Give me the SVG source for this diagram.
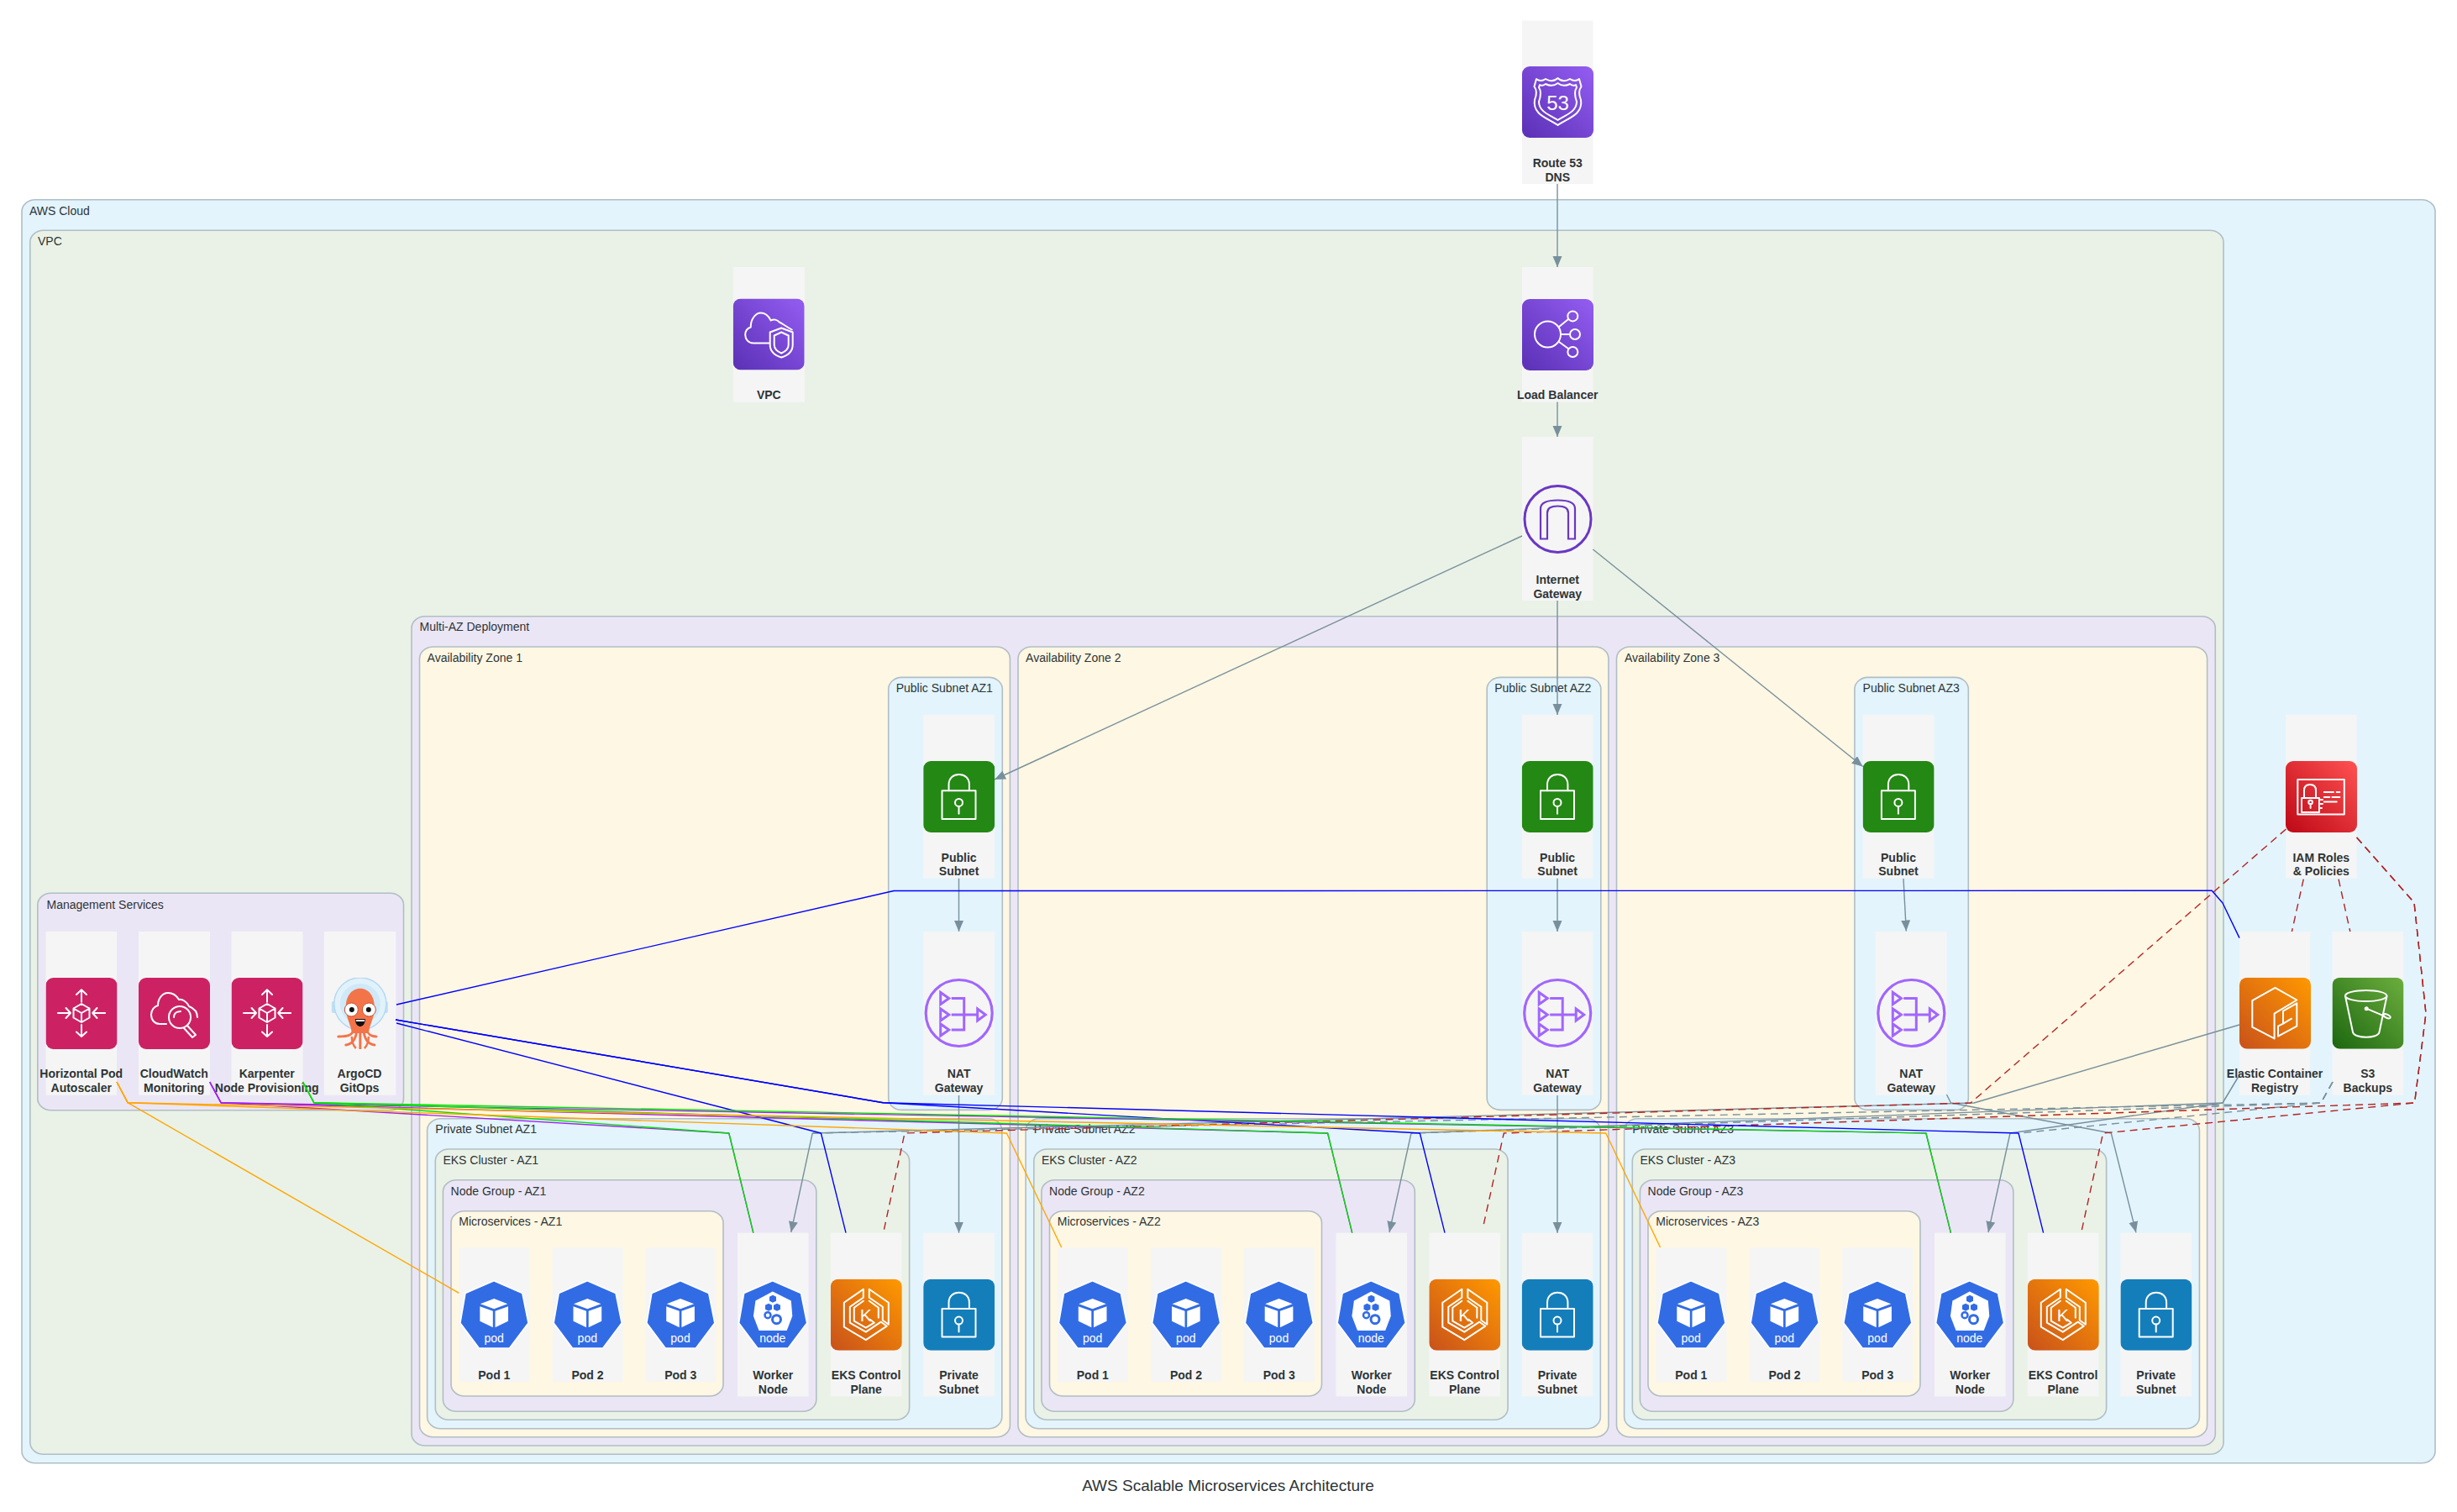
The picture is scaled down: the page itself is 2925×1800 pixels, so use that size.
<svg xmlns="http://www.w3.org/2000/svg" xmlns:xlink="http://www.w3.org/1999/xlink" width="2925" height="1800" viewBox="0 0 2925 1800">
<style>
text{font-family:"Liberation Sans",Arial,sans-serif;fill:#2d3436}
.lb{font-size:14px}
.nl{font-size:14px;font-weight:bold;text-anchor:middle}
.box{fill:#f5f5f5}
.c{stroke:#b0bec5;stroke-width:1.6}
.blue{fill:#e3f4fc}.green{fill:#eaf2e7}.violet{fill:#ebe6f5}.amber{fill:#fef7e3}
.e{fill:none;stroke-width:1.4;stroke-linejoin:round}
.g{stroke:#78909c;marker-end:url(#ah)}
.gd{stroke:#78909c;stroke-dasharray:9 6}
.r{stroke:#b22222;stroke-dasharray:9 6}
.bl{stroke:#0000ff}.pu{stroke:#a020f0}.gr{stroke:#00e000}.or{stroke:#ffa500}
.w{fill:none;stroke:#fff;stroke-width:2;stroke-linejoin:round;stroke-linecap:round}
.wf{fill:#fff;font-family:"Liberation Sans",Arial,sans-serif;text-anchor:middle}
</style>
<defs>
<marker id="ah" markerUnits="userSpaceOnUse" markerWidth="14" markerHeight="12" refX="13" refY="5.5" orient="auto"><path d="M0 0L13 5.5L0 11z" fill="#78909c"/></marker>
<linearGradient id="gPurple" x1="0" y1="1" x2="1" y2="0"><stop offset="0" stop-color="#5a30b5"/><stop offset="1" stop-color="#945df2"/></linearGradient>
<linearGradient id="gOrange" x1="0" y1="1" x2="1" y2="0"><stop offset="0" stop-color="#c8511b"/><stop offset="1" stop-color="#ff9900"/></linearGradient>
<linearGradient id="gRed" x1="0" y1="1" x2="1" y2="0"><stop offset="0" stop-color="#bd0816"/><stop offset="1" stop-color="#ff5252"/></linearGradient>
<linearGradient id="gGreen" x1="0" y1="1" x2="1" y2="0"><stop offset="0" stop-color="#1b660f"/><stop offset="1" stop-color="#6cae3e"/></linearGradient>
<symbol id="ic-r53" viewBox="0 0 85 85" width="85" height="85"><rect width="85" height="85" rx="9" fill="url(#gPurple)"/><path class="w" d="M42.5 14Q36 20 28 15Q22 19 17 15L14.5 24Q19 30 15 40C12 58 32 62 42.5 70C53 62 73 58 70 40Q66 30 70.5 24L68 15Q63 19 57 15Q49 20 42.5 14Z"/><path class="w" d="M42.5 20Q36 25 28 21Q24 24 21 22L20 25Q24 31 20 42C20 54 33 58 42.5 64C52 58 65 54 65 42Q61 31 65 25L64 22Q61 24 57 21Q49 25 42.5 20Z"/><text class="wf" x="42.5" y="52" font-size="24">53</text></symbol>
<symbol id="ic-lb" viewBox="0 0 85 85" width="85" height="85"><rect width="85" height="85" rx="9" fill="url(#gPurple)"/><g class="w"><circle cx="30.5" cy="42" r="15.5"/><circle cx="60.3" cy="20.4" r="6"/><circle cx="63" cy="42" r="6"/><circle cx="60.3" cy="63" r="6"/><path d="M44 33L55 24M46 42H57M44 51L55 59"/></g></symbol>
<symbol id="ic-vpc" viewBox="0 0 85 85" width="85" height="85"><rect width="85" height="85" rx="9" fill="url(#gPurple)"/><g class="w"><path d="M43 53H24C18 53 14.5 48 14.5 43C14.5 38 18 35 21 34C21 24 27 17 33 17C38 17 42 20 45 26C48 24 53 25 55 28C58 29 61 32 70 37"/><path d="M57.5 35L71 40V55C71 64 64 68 57.5 70C51 68 44 64 44 55V40Z"/><path d="M57.5 40L66 44V55C66 60 62 63 57.5 65C53 63 49 60 49 55V44Z"/></g></symbol>
<symbol id="ic-scale" viewBox="0 0 85 85" width="85" height="85"><rect width="85" height="85" rx="9" fill="#cc2264"/><g class="w"><path d="M42.5 31L52 36.5V47.5L42.5 53L33 47.5V36.5ZM33 36.5L42.5 42L52 36.5M42.5 42V53"/><path d="M42.5 28.7V14.3M36.5 20L42.5 14.3L48.5 20M42.5 56V70M36.5 64.5L42.5 70L48.5 64.5M14.4 42H29.5M24 36L29.5 42L24 48M70.6 42H55.7M61 36L55.7 42L61 48"/></g></symbol>
<symbol id="ic-cw" viewBox="0 0 85 85" width="85" height="85"><rect width="85" height="85" rx="9" fill="#cc2264"/><g class="w"><path d="M33 55H25C19 55 15 50 15 44C15 38 19 34 23 33C23 24 29 18 35 18C41 18 45 21 48 26C52 25 58 29 60 34C65 36 70 40 70 47"/><circle cx="49" cy="47" r="13"/><path d="M42 47C42 42 46 40 50 40M58 57L68 68L64 71L54 60"/></g></symbol>
<symbol id="ic-argo" viewBox="0 0 85 85" width="85" height="85"><rect x="0" y="28" width="6" height="14" rx="2" fill="#bfe0f5" transform="translate(9 0)"/><rect x="70" y="28" width="6" height="14" rx="2" fill="#bfe0f5"/><circle cx="43" cy="31" r="31" fill="#e2f2fb" stroke="#b3d9f2" stroke-width="1.5"/><circle cx="43" cy="31" r="24" fill="#cfe9f8"/><path d="M26 38C25 22 33 12.7 43 12.7C53 12.7 61 22 60 38C59 50 54 56 53 66H33C32 56 27 50 26 38Z" fill="#f4744a"/><g fill="none" stroke="#f4744a" stroke-width="3" stroke-linecap="round"><path d="M36 60C34 68 30 70 17 70M39 62C38 74 33 79 26 80M43 62V84M47 62C48 74 53 79 60 80M50 60C52 68 56 70 62 70"/></g><path d="M33 70C33 78 36 82 38 84M53 70C53 78 50 82 48 84" fill="none" stroke="#f4744a" stroke-width="2.5"/><circle cx="32.5" cy="38" r="8" fill="#fff" stroke="#c8502c"/><circle cx="53.5" cy="38" r="8" fill="#fff" stroke="#c8502c"/><circle cx="33" cy="38" r="3" fill="#111"/><circle cx="53" cy="38" r="3" fill="#111"/><path d="M37 49H49C49 56 45 58 43 58C41 58 37 56 37 49Z" fill="#111"/><path d="M38 50H48V52H38Z" fill="#fff"/></symbol>
<symbol id="ic-lockg" viewBox="0 0 85 85" width="85" height="85"><rect width="85" height="85" rx="9" fill="#248814"/><use href="#lockmark"/></symbol>
<symbol id="ic-lockb" viewBox="0 0 85 85" width="85" height="85"><rect width="85" height="85" rx="9" fill="#147eba"/><use href="#lockmark"/></symbol>
<g id="lockmark" class="w"><rect x="22.3" y="35.2" width="40" height="33.7"/><path d="M30.3 35.2V28C30.3 20 36 16 42.5 16C49 16 54.7 20 54.7 28V35.2"/><circle cx="42.3" cy="49.4" r="4.5"/><path d="M42.3 54V62.8"/></g>
<symbol id="ic-igw" viewBox="0 0 85 85" width="85" height="85"><g fill="none" stroke="#6a38c2"><circle cx="42.5" cy="42.5" r="39.5" stroke-width="3"/><path stroke-width="2.2" d="M22 66V30Q22 20 42.5 20Q63 20 63 30V66H55V35Q55 27 42.5 27Q30 27 30 35V66Z"/></g></symbol>
<symbol id="ic-nat" viewBox="0 0 85 85" width="85" height="85"><g fill="none" stroke="#a166ff" stroke-width="3"><circle cx="42.5" cy="42.5" r="39.5" stroke-width="3.2"/><path d="M20.5 18V32L30.5 25ZM20.5 37.5V51.5L30.5 44.5ZM20.5 55.5V69.5L30.5 62.5ZM64.5 37.5V51.5L74 44.5Z"/><path d="M33.5 25H48.5V62.5H33.5M33.5 44.5H64.5"/></g></symbol>
<symbol id="ic-iam" viewBox="0 0 85 85" width="85" height="85"><rect width="85" height="85" rx="9" fill="url(#gRed)"/><g class="w"><rect x="14.3" y="22" width="55.5" height="41.5"/><rect x="19" y="44" width="21" height="17"/><path d="M22 44V35C22 30 25 28 29 28C33 28 36 30 36 35V44"/><circle cx="29.6" cy="49" r="2.3"/><path d="M29.6 51V56M40 46H44M40 51H44M40 56H43M45.8 37H56.9M60.7 37H64.4M45.8 43H52.3M55.5 43H64.4M45.8 48.6H60.7"/></g></symbol>
<symbol id="ic-ecr" viewBox="0 0 85 85" width="85" height="85"><rect width="85" height="85" rx="9" fill="url(#gOrange)"/><g class="w"><path d="M41.6 72.7L15.3 59V27.5L42.5 12.2L68.3 26.8L41.6 43V72.7"/><path d="M46 70L68.3 58V30.6L52 40V55L46 58V70ZM52 55L62 49"/></g></symbol>
<symbol id="ic-s3" viewBox="0 0 85 85" width="85" height="85"><rect width="85" height="85" rx="9" fill="url(#gGreen)"/><g class="w"><ellipse cx="40.2" cy="21.8" rx="24.7" ry="6.5"/><path d="M15.5 22L24.5 65C26 73 55 73 56 65L65 22"/><path d="M40.7 37L62 46"/><ellipse cx="65" cy="46" rx="4.5" ry="2" transform="rotate(25 65 46)"/><circle cx="40.7" cy="37" r="1.5"/></g></symbol>
<symbol id="ic-eks" viewBox="0 0 85 85" width="85" height="85"><rect width="85" height="85" rx="9" fill="url(#gOrange)"/><g class="w"><path d="M39 12L16 28V57L42 72.5L67 56L60 51L42 63L23 52V33L39 22Z"/><path d="M46 12L69 28V54L62 49V33L46 22Z"/><path d="M39 26L28 34V50L42 58L52 52L47 48"/><path d="M46 26L57 34V46"/></g><text class="wf" x="42" y="50.5" font-size="21">K</text></symbol>
<symbol id="ic-pod" viewBox="0 0 84 85" width="84" height="85"><path d="M41.7 2L75.5 16.7L82.7 52.3L60.2 82.3H24L1.6 52.3L7.7 16.7Z" fill="#326ce5" stroke="#fff" stroke-width="1.6" stroke-linejoin="round"/><path d="M41.8 23.3L58 29.5L41.8 35.5L25.5 29.5ZM25 32.5L40.5 38V57.5L25 50ZM58.7 32.5L43.2 38V57.5L58.7 50Z" fill="#fff"/><text class="wf" x="41.8" y="75.5" font-size="14">pod</text></symbol>
<symbol id="ic-node" viewBox="0 0 84 85" width="84" height="85"><path d="M41.7 2L75.5 16.7L82.7 52.3L60.2 82.3H24L1.6 52.3L7.7 16.7Z" fill="#326ce5" stroke="#fff" stroke-width="1.6" stroke-linejoin="round"/><path d="M41.8 14.7L63.8 25.7L65.3 44L58.7 61.3H25.5L18.9 44L21.4 25.7Z" fill="#fff"/><path d="M42 19L46 21V26L42 28L38 26V21ZM37 29L41 31V36L37 38L33 36V31ZM47 29L51 31V36L47 38L43 36V31Z" fill="#326ce5"/><circle cx="36" cy="43" r="3.5" fill="none" stroke="#326ce5" stroke-width="2.5"/><circle cx="46.5" cy="48" r="5" fill="none" stroke="#326ce5" stroke-width="3"/><text class="wf" x="41.8" y="75.5" font-size="14">node</text></symbol>
</defs>

<g id="clusters">
<rect class="c blue" x="26" y="237.7" width="2873" height="1504" rx="16" ry="14"/><text class="lb" x="35" y="255.5">AWS Cloud</text>
<rect class="c green" x="35.8" y="274.3" width="2611.2" height="1457" rx="16" ry="14"/><text class="lb" x="45" y="292">VPC</text>
<rect class="c violet" x="44.8" y="1063.3" width="435.7" height="258.4" rx="16" ry="14"/><text class="lb" x="55.5" y="1081.7">Management Services</text>
<rect class="c violet" x="490" y="733.7" width="2147.3" height="987.3" rx="16" ry="14"/><text class="lb" x="499.5" y="751">Multi-AZ Deployment</text>

<rect class="c amber" x="499.5" y="770" width="702.9" height="940.7" rx="16" ry="14"/><text class="lb" x="508.6" y="788">Availability Zone 1</text>
<rect class="c blue" x="1057.7" y="806.4" width="135.6" height="515" rx="16" ry="14"/><text class="lb" x="1066.7" y="823.6">Public Subnet AZ1</text>
<rect class="c blue" x="508.6" y="1331.7" width="684.2" height="369" rx="16" ry="14"/><text class="lb" x="518.3" y="1349">Private Subnet AZ1</text>
<rect class="c green" x="518.3" y="1368" width="564.3" height="322.3" rx="16" ry="14"/><text class="lb" x="527.4" y="1386">EKS Cluster - AZ1</text>
<rect class="c violet" x="527.4" y="1404.7" width="444.4" height="275.6" rx="16" ry="14"/><text class="lb" x="536.6" y="1422.7">Node Group - AZ1</text>
<rect class="c amber" x="537" y="1441.7" width="324" height="220.3" rx="16" ry="14"/><text class="lb" x="546.3" y="1459">Microservices - AZ1</text>

<rect class="c amber" x="1212" y="770" width="702.9" height="940.7" rx="16" ry="14"/><text class="lb" x="1221.1" y="788">Availability Zone 2</text>
<rect class="c blue" x="1770.2" y="806.4" width="135.6" height="515" rx="16" ry="14"/><text class="lb" x="1779.2" y="823.6">Public Subnet AZ2</text>
<rect class="c blue" x="1221.1" y="1331.7" width="684.2" height="369" rx="16" ry="14"/><text class="lb" x="1230.8" y="1349">Private Subnet AZ2</text>
<rect class="c green" x="1230.8" y="1368" width="564.3" height="322.3" rx="16" ry="14"/><text class="lb" x="1239.9" y="1386">EKS Cluster - AZ2</text>
<rect class="c violet" x="1239.9" y="1404.7" width="444.4" height="275.6" rx="16" ry="14"/><text class="lb" x="1249.1" y="1422.7">Node Group - AZ2</text>
<rect class="c amber" x="1249.5" y="1441.7" width="324" height="220.3" rx="16" ry="14"/><text class="lb" x="1258.8" y="1459">Microservices - AZ2</text>

<rect class="c amber" x="1924.5" y="770" width="703.1" height="940.7" rx="16" ry="14"/><text class="lb" x="1934" y="788">Availability Zone 3</text>
<rect class="c blue" x="2207.9" y="806.4" width="135.4" height="515" rx="16" ry="14"/><text class="lb" x="2217.6" y="823.6">Public Subnet AZ3</text>
<rect class="c blue" x="1933.6" y="1331.7" width="684.8" height="369" rx="16" ry="14"/><text class="lb" x="1943.3" y="1349">Private Subnet AZ3</text>
<rect class="c green" x="1943.3" y="1368" width="564.3" height="322.3" rx="16" ry="14"/><text class="lb" x="1952.4" y="1386">EKS Cluster - AZ3</text>
<rect class="c violet" x="1952.4" y="1404.7" width="444.4" height="275.6" rx="16" ry="14"/><text class="lb" x="1961.6" y="1422.7">Node Group - AZ3</text>
<rect class="c amber" x="1962" y="1441.7" width="324" height="220.3" rx="16" ry="14"/><text class="lb" x="1971.3" y="1459">Microservices - AZ3</text>
</g>

<g id="nodes">
<g id="route53" transform="translate(1812 24.5)"><rect class="box" width="84.5" height="194.5"/><use href="#ic-r53" y="54.5"/><text class="nl" x="42.2" y="174.5">Route 53</text><text class="nl" x="42.2" y="191">DNS</text></g>
<g id="lb" transform="translate(1812 318)"><rect class="box" width="84.5" height="160.6"/><use href="#ic-lb" y="38"/><text class="nl" x="42.2" y="156.5">Load Balancer</text></g>
<g id="vpc-icon" transform="translate(872.7 318)"><rect class="box" width="85.3" height="160.6"/><use href="#ic-vpc" y="37.5"/><text class="nl" x="42.6" y="156.5">VPC</text></g>
<g id="igw" transform="translate(1812 520)"><rect class="box" width="84.5" height="195"/><use href="#ic-igw" y="55.5"/><text class="nl" x="42.2" y="175">Internet</text><text class="nl" x="42.2" y="192">Gateway</text></g>

<g id="hpa" transform="translate(54.5 1109)"><rect class="box" width="84.5" height="194.7"/><use href="#ic-scale" y="55"/><text class="nl" x="42.2" y="174">Horizontal Pod</text><text class="nl" x="42.2" y="191">Autoscaler</text></g>
<g id="cloudwatch" transform="translate(165 1109)"><rect class="box" width="85" height="194.7"/><use href="#ic-cw" y="55"/><text class="nl" x="42.2" y="174">CloudWatch</text><text class="nl" x="42.2" y="191">Monitoring</text></g>
<g id="karpenter" transform="translate(275.5 1109)"><rect class="box" width="85" height="194.7"/><use href="#ic-scale" y="55"/><text class="nl" x="42.2" y="174">Karpenter</text><text class="nl" x="42.2" y="191">Node Provisioning</text></g>
<g id="argocd" transform="translate(385.8 1109)"><rect class="box" width="85.5" height="194.7"/><use href="#ic-argo" y="55"/><text class="nl" x="42.2" y="174">ArgoCD</text><text class="nl" x="42.2" y="191">GitOps</text></g>

<g id="public-az1" transform="translate(1099.2 851)"><rect class="box" width="84.8" height="194.7"/><use href="#ic-lockg" y="55"/><text class="nl" x="42.4" y="175">Public</text><text class="nl" x="42.4" y="191">Subnet</text></g>
<g id="public-az2" transform="translate(1811.7 851)"><rect class="box" width="84.8" height="194.7"/><use href="#ic-lockg" y="55"/><text class="nl" x="42.4" y="175">Public</text><text class="nl" x="42.4" y="191">Subnet</text></g>
<g id="public-az3" transform="translate(2217.6 851)"><rect class="box" width="84.8" height="194.7"/><use href="#ic-lockg" y="55"/><text class="nl" x="42.4" y="175">Public</text><text class="nl" x="42.4" y="191">Subnet</text></g>
<g id="nat-az1" transform="translate(1099.2 1109)"><rect class="box" width="84.8" height="194.7"/><use href="#ic-nat" y="54.5"/><text class="nl" x="42.4" y="174">NAT</text><text class="nl" x="42.4" y="191">Gateway</text></g>
<g id="nat-az2" transform="translate(1811.7 1109)"><rect class="box" width="84.8" height="194.7"/><use href="#ic-nat" y="54.5"/><text class="nl" x="42.4" y="174">NAT</text><text class="nl" x="42.4" y="191">Gateway</text></g>
<g id="nat-az3" transform="translate(2232.8 1109)"><rect class="box" width="84.8" height="194.7"/><use href="#ic-nat" y="54.5"/><text class="nl" x="42.4" y="174">NAT</text><text class="nl" x="42.4" y="191">Gateway</text></g>

<g id="iam" transform="translate(2721 851)"><rect class="box" width="84.6" height="194.7"/><use href="#ic-iam" y="55"/><text class="nl" x="42.3" y="175">IAM Roles</text><text class="nl" x="42.3" y="191">&amp; Policies</text></g>
<g id="ecr" transform="translate(2666 1109)"><rect class="box" width="84.4" height="194.7"/><use href="#ic-ecr" y="54.7"/><text class="nl" x="42" y="174">Elastic Container</text><text class="nl" x="42" y="191">Registry</text></g>
<g id="s3" transform="translate(2776.5 1109)"><rect class="box" width="84.6" height="194.7"/><use href="#ic-s3" y="54.7"/><text class="nl" x="42.3" y="174">S3</text><text class="nl" x="42.3" y="191">Backups</text></g>

<g id="pod1-az1" transform="translate(546.3 1485)"><rect class="box" width="84.2" height="160"/><use href="#ic-pod" y="37.7"/><text class="nl" x="42" y="157">Pod 1</text></g>
<g id="pod2-az1" transform="translate(657.5 1485)"><rect class="box" width="84.2" height="160"/><use href="#ic-pod" y="37.7"/><text class="nl" x="42" y="157">Pod 2</text></g>
<g id="pod3-az1" transform="translate(768.2 1485)"><rect class="box" width="84.2" height="160"/><use href="#ic-pod" y="37.7"/><text class="nl" x="42" y="157">Pod 3</text></g>
<g id="worker-az1" transform="translate(878 1467.7)"><rect class="box" width="84.6" height="194.7"/><use href="#ic-node" y="55"/><text class="nl" x="42.3" y="174.3">Worker</text><text class="nl" x="42.3" y="191.3">Node</text></g>
<g id="eks-az1" transform="translate(988.8 1467.7)"><rect class="box" width="84.6" height="194.7"/><use href="#ic-eks" y="55"/><text class="nl" x="42.3" y="174.3">EKS Control</text><text class="nl" x="42.3" y="191.3">Plane</text></g>
<g id="private-az1" transform="translate(1099.2 1467.7)"><rect class="box" width="84.8" height="194.7"/><use href="#ic-lockb" y="55"/><text class="nl" x="42.3" y="174.3">Private</text><text class="nl" x="42.3" y="191.3">Subnet</text></g>

<g id="pod1-az2" transform="translate(1258.8 1485)"><rect class="box" width="84.2" height="160"/><use href="#ic-pod" y="37.7"/><text class="nl" x="42" y="157">Pod 1</text></g>
<g id="pod2-az2" transform="translate(1370 1485)"><rect class="box" width="84.2" height="160"/><use href="#ic-pod" y="37.7"/><text class="nl" x="42" y="157">Pod 2</text></g>
<g id="pod3-az2" transform="translate(1480.7 1485)"><rect class="box" width="84.2" height="160"/><use href="#ic-pod" y="37.7"/><text class="nl" x="42" y="157">Pod 3</text></g>
<g id="worker-az2" transform="translate(1590.5 1467.7)"><rect class="box" width="84.6" height="194.7"/><use href="#ic-node" y="55"/><text class="nl" x="42.3" y="174.3">Worker</text><text class="nl" x="42.3" y="191.3">Node</text></g>
<g id="eks-az2" transform="translate(1701.3 1467.7)"><rect class="box" width="84.6" height="194.7"/><use href="#ic-eks" y="55"/><text class="nl" x="42.3" y="174.3">EKS Control</text><text class="nl" x="42.3" y="191.3">Plane</text></g>
<g id="private-az2" transform="translate(1811.7 1467.7)"><rect class="box" width="84.8" height="194.7"/><use href="#ic-lockb" y="55"/><text class="nl" x="42.3" y="174.3">Private</text><text class="nl" x="42.3" y="191.3">Subnet</text></g>

<g id="pod1-az3" transform="translate(1971.3 1485)"><rect class="box" width="84.2" height="160"/><use href="#ic-pod" y="37.7"/><text class="nl" x="42" y="157">Pod 1</text></g>
<g id="pod2-az3" transform="translate(2082.5 1485)"><rect class="box" width="84.2" height="160"/><use href="#ic-pod" y="37.7"/><text class="nl" x="42" y="157">Pod 2</text></g>
<g id="pod3-az3" transform="translate(2193.2 1485)"><rect class="box" width="84.2" height="160"/><use href="#ic-pod" y="37.7"/><text class="nl" x="42" y="157">Pod 3</text></g>
<g id="worker-az3" transform="translate(2303 1467.7)"><rect class="box" width="84.6" height="194.7"/><use href="#ic-node" y="55"/><text class="nl" x="42.3" y="174.3">Worker</text><text class="nl" x="42.3" y="191.3">Node</text></g>
<g id="eks-az3" transform="translate(2413.8 1467.7)"><rect class="box" width="84.6" height="194.7"/><use href="#ic-eks" y="55"/><text class="nl" x="42.3" y="174.3">EKS Control</text><text class="nl" x="42.3" y="191.3">Plane</text></g>
<g id="private-az3" transform="translate(2524.4 1467.7)"><rect class="box" width="84.8" height="194.7"/><use href="#ic-lockb" y="55"/><text class="nl" x="42.3" y="174.3">Private</text><text class="nl" x="42.3" y="191.3">Subnet</text></g>
</g>

<g id="connectors">
<path class="e g" d="M1854 219V318"/>
<path class="e g" d="M1854 478.6V520"/>
<path class="e g" d="M1812 638L1184 928"/>
<path class="e g" d="M1854 715V851"/>
<path class="e g" d="M1896.4 654L2217.6 912.5"/>
<path class="e g" d="M1141.5 1045.7V1109"/>
<path class="e g" d="M1854 1045.7V1109"/>
<path class="e g" d="M2266 1046L2269.3 1108.5"/>
<path class="e g" d="M1141.5 1304V1467.7"/>
<path class="e g" d="M1854 1304V1467.7"/>
<path class="e g" d="M2317.4 1303L2322.5 1313L2513.3 1349L2542.9 1467.3"/>
<path class="e g" d="M2666 1220L2350 1313L967.2 1349L941.7 1467"/>
<path class="e g" d="M2664.6 1282L2646 1313L1680 1349L1654 1467"/>
<path class="e g" d="M2664.6 1282L2646 1313L2393 1349L2367 1467"/>
<path class="e gd" d="M2777 1288L2763 1313L967.2 1349"/>
<path class="e gd" d="M2777 1288L2763 1313L1680 1349"/>
<path class="e gd" d="M2777 1288L2763 1313L2404 1349"/>
<path class="e r" d="M2742.3 1046.6L2728.4 1109"/>
<path class="e r" d="M2784 1046.6L2797.8 1109"/>
<path class="e r" d="M2721.5 987L2346 1313L1077 1349L1052.4 1464"/>
<path class="e r" d="M2805.6 997L2874 1074.5L2888 1206.5L2874.5 1313L1790.3 1349L1765.3 1462"/>
<path class="e r" d="M2805.6 997L2874 1074.5L2888 1206.5L2874.5 1313L2503.6 1349L2477.6 1467.7"/>
<path class="e bl" d="M471.9 1196L1064 1060.5L2633.2 1060.3L2646 1075L2666 1116.6"/>
<path class="e bl" d="M472 1218L977.4 1349L1007 1467.7"/>
<path class="e bl" d="M471 1214L1051.4 1312.7L1690.3 1349L1720 1467.7"/>
<path class="e bl" d="M471 1214L1051.4 1312.7L2403 1349L2432.6 1467.7"/>
<path class="e pu" d="M249.7 1288L263 1312.7L867.8 1349L896.8 1467.7"/>
<path class="e pu" d="M249.7 1288L263 1312.7L1580.6 1349L1609.7 1467.7"/>
<path class="e pu" d="M249.7 1288L263 1312.7L2292.9 1349L2322.4 1467.7"/>
<path class="e gr" d="M360.5 1288L373.7 1312.7L867.8 1349L896.8 1467.7"/>
<path class="e gr" d="M360.5 1288L373.7 1312.7L1580.6 1349L1609.7 1467.7"/>
<path class="e gr" d="M360.5 1288L373.7 1312.7L2292.9 1349L2322.4 1467.7"/>
<path class="e or" d="M139 1288L152 1312.7L546.3 1539.3"/>
<path class="e or" d="M139 1288L152 1312.7L1198.4 1349L1263.7 1485"/>
<path class="e or" d="M139 1288L152 1312.7L1911.7 1349L1976.5 1485"/>
</g>

<text id="title" x="1462" y="1775" font-size="19" text-anchor="middle">AWS Scalable Microservices Architecture</text>
</svg>
